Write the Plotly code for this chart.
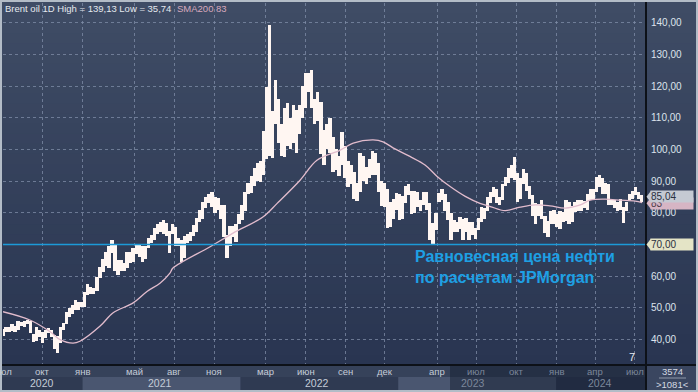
import plotly.graph_objects as go
import pandas as pd

# ---------------- data (weekly high/low ranges) ----------------
week_start_2020 = "2020-06-29"
low_2020 = [41.0, 42.3, 42.3, 42.8, 42.4, 43.2, 44.2, 44.0, 44.9, 42.0, 39.4, 39.5, 40.8, 39.0,
            40.5, 42.0, 40.8, 37.2, 35.74, 39.0, 43.0, 45.0, 47.0, 48.2, 49.5, 49.5, 50.2]
high_2020 = [43.5, 43.9, 44.0, 44.8, 44.3, 45.8, 45.6, 45.9, 46.2, 45.9, 41.9, 43.9, 43.0, 42.4,
             43.2, 43.7, 43.0, 41.6, 41.3, 44.0, 45.2, 48.7, 49.9, 50.8, 52.5, 51.9, 52.0]

week_start_2021 = "2021-01-04"
low_2021 = [50.4, 54.0, 54.5, 54.5, 55.4, 59.4, 61.3, 63.2, 62.7, 67.2, 61.7, 60.3, 61.6,
            61.5, 62.5, 64.2, 64.4, 67.1, 66.2, 64.6, 65.5, 68.9, 70.6, 71.5, 73.4, 74.0,
            73.4, 72.6, 67.4, 73.4, 69.6, 69.5, 64.6, 65.7, 70.6, 71.0, 72.6, 74.0, 77.0,
            78.0, 81.5, 83.0, 82.0, 80.0, 81.0, 78.1, 72.3, 65.7, 69.6, 72.5, 70.9, 76.5]
high_2021 = [55.0, 57.4, 56.6, 56.4, 59.8, 62.8, 65.5, 67.7, 69.7, 71.4, 69.9, 65.0, 65.0,
             64.2, 67.6, 67.5, 69.0, 69.8, 70.0, 69.5, 69.6, 72.0, 73.0, 75.3, 76.5, 77.0,
             77.8, 76.9, 74.4, 76.4, 75.6, 72.0, 71.5, 72.7, 73.4, 73.9, 76.2, 78.5, 80.8,
             83.5, 85.1, 86.1, 86.7, 85.0, 84.6, 82.5, 82.4, 73.0, 76.0, 76.0, 76.4, 79.5]

week_start_2022 = "2022-01-03"
low_2022 = [77.8, 80.5, 86.0, 86.4, 88.6, 90.0, 89.6, 92.0, 97.0, 98.0, 97.4, 108.0, 102.0,
            98.0, 97.6, 101.0, 100.0, 102.0, 99.0, 105.0, 110.0, 113.0, 118.0, 113.0, 108.0, 109.0,
            98.5, 95.0, 100.0, 99.0, 93.0, 93.5, 91.5, 95.0, 91.0, 88.0, 89.0, 84.5, 83.6,
            86.5, 90.0, 89.0, 91.0, 92.0, 92.0, 86.5, 82.3, 82.0, 75.1, 75.5, 78.0, 81.0]
high_2022 = [82.5, 86.5, 89.5, 91.7, 94.0, 95.6, 96.2, 105.8, 119.8, 139.13, 112.0, 122.0, 116.0,
             108.0, 113.0, 114.8, 110.0, 114.0, 112.5, 114.0, 120.0, 124.0, 124.0, 125.2, 116.0, 118.0,
             115.0, 106.0, 108.0, 110.0, 104.0, 100.0, 98.0, 105.6, 101.0, 96.4, 95.0, 93.0, 89.5,
             98.8, 98.0, 94.5, 97.0, 99.6, 99.0, 95.6, 90.0, 89.4, 87.5, 83.5, 84.5, 86.2]

week_start_2023 = "2023-01-02"
low_2023 = [77.6, 78.0, 83.0, 85.5, 79.6, 80.0, 82.0, 80.5, 82.5, 81.0, 71.4, 70.1, 74.5,
            83.5, 84.0, 80.7, 77.7, 71.4, 74.0, 74.0, 75.0, 71.5, 74.0, 71.5, 73.0, 71.6,
            74.5, 77.0, 78.0, 80.5, 83.0, 85.0, 83.2, 82.5, 84.0, 88.5, 89.5, 91.0, 90.5,
            83.5, 84.5, 89.0, 87.0, 84.5, 79.0, 76.6, 79.0, 78.0, 73.8, 72.5, 76.5, 76.5]
high_2023 = [86.0, 85.2, 88.5, 89.1, 87.0, 86.9, 86.7, 84.0, 86.7, 86.7, 83.0, 76.8, 80.0,
             86.4, 87.5, 86.0, 83.5, 80.0, 77.9, 77.0, 78.7, 78.0, 78.5, 77.2, 77.0, 75.3,
             78.5, 81.7, 81.5, 85.0, 86.7, 88.1, 87.5, 85.0, 89.0, 91.2, 94.3, 95.0, 97.7,
             92.5, 91.0, 93.8, 92.5, 88.5, 85.5, 83.0, 82.8, 84.0, 79.0, 77.5, 80.6, 81.0]

week_start_2024 = "2024-01-01"
low_2024 = [75.5, 75.0, 77.0, 77.5, 76.5, 77.0, 80.3, 80.5, 80.5, 81.5, 81.0, 84.0, 84.5,
            86.5, 88.0, 86.0, 86.0, 82.4, 82.5, 81.5, 80.6, 81.0, 76.8, 80.5, 84.0, 84.5,
            85.5, 84.5, 83.5]
high_2024 = [79.5, 80.7, 80.2, 84.0, 83.5, 82.3, 83.5, 84.0, 84.0, 83.8, 86.0, 87.6, 87.6,
             91.2, 91.9, 91.0, 89.5, 89.0, 84.5, 84.0, 83.5, 84.5, 82.0, 83.5, 86.0, 87.0,
             88.0, 86.5, 85.5]

last_price = 85.04
high_all = 139.13
low_all = 35.74

# SMA200
sma_dates = ["2020-07-01", "2020-09-01", "2020-10-18", "2020-11-10", "2020-12-10", "2020-12-26",
             "2021-02-10", "2021-03-12", "2021-04-28", "2021-05-30", "2021-06-29", "2021-07-22",
             "2021-07-29", "2021-10-23", "2021-12-15", "2022-02-22", "2022-03-27", "2022-05-19",
             "2022-06-27", "2022-08-20", "2022-09-19", "2022-11-04", "2022-11-27", "2022-12-20",
             "2023-01-28", "2023-03-04", "2023-04-01", "2023-05-01", "2023-06-05", "2023-07-09",
             "2023-08-02", "2023-09-05", "2023-10-10", "2023-11-14", "2023-12-18", "2024-01-22",
             "2024-02-26", "2024-03-20", "2024-04-24", "2024-05-29", "2024-07-02", "2024-07-18"]
sma_values = [48.8, 46.2, 42.5, 40.0, 38.9, 39.5,
              44.2, 48.4, 51.6, 55.2, 57.8, 61.0,
              62.6, 69.3, 73.6, 78.7, 83.0, 90.3,
              96.6, 99.8, 102.0, 103.0, 102.4, 100.5,
              97.8, 95.1, 91.5, 88.3, 85.2, 83.0,
              82.0, 80.7, 81.8, 82.5, 82.2, 81.5,
              82.5, 84.0, 84.3, 84.0, 83.7, 83.2]
sma_last = 83

jpm_level = 70.0
jpm_text = "Равновесная цена нефти<br>по расчетам JPMorgan"

y_ticks = [40, 50, 60, 70, 80, 90, 100, 110, 120, 130, 140]
tick_dates = ["2020-07-01", "2020-10-01", "2021-01-01", "2021-05-01", "2021-08-01", "2021-11-01",
              "2022-03-01", "2022-06-01", "2022-09-01", "2022-12-01", "2023-04-01", "2023-07-01",
              "2023-10-01", "2024-01-01", "2024-04-01", "2024-07-01"]
tick_labels = ["июл", "окт", "янв", "май", "авг", "ноя", "мар", "июн", "сен", "дек", "апр", "июл",
               "окт", "янв", "апр", "июл"]
year_labels = ["2020", "2021", "2022", "2023", "2024"]
year_label_pos = ["2020-09-29", "2021-06-29", "2022-06-27", "2023-06-23", "2024-04-12"]
band_years = [("2021-01-01", "2022-01-01"), ("2023-01-01", "2024-01-01")]
bars_count = "3574"
bars_visible = ">1081<"

# ---------------- build ----------------
frames = []
for start, lo, hi in [(week_start_2020, low_2020, high_2020), (week_start_2021, low_2021, high_2021),
                      (week_start_2022, low_2022, high_2022), (week_start_2023, low_2023, high_2023),
                      (week_start_2024, low_2024, high_2024)]:
    d = pd.date_range(start, periods=len(lo), freq="7D") + pd.Timedelta(days=2)
    frames.append(pd.DataFrame({"date": d, "low": lo, "high": hi}))
df = pd.concat(frames, ignore_index=True)

W, H = 698, 392
ML, MR, MT, MB = 3, 52, 3, 27
PW, PH = W - ML - MR, H - MT - MB


def px_x(p):  # pixel -> paper x
    return (p - ML) / PW


def px_y(p):  # pixel -> paper y
    return 1 - (p - MT) / PH


X0, X1 = "2020-07-01", "2024-07-27"
Y0, Y1 = 32.0, 146.2

FONT = "Liberation Sans, Arial, sans-serif"
SMALL = 9.5

fig = go.Figure()
fig.add_trace(go.Bar(x=df["date"], base=df["low"], y=df["high"] - df["low"],
                     width=7.8 * 86400000, marker=dict(color="#fff6f2", line=dict(width=0)),
                     hoverinfo="skip"))
fig.add_trace(go.Scatter(x=pd.to_datetime(sma_dates), y=sma_values, mode="lines",
                         line=dict(color="#e2bccd", width=1.3, shape="spline"), hoverinfo="skip"))

shapes = []
# background gradient
top = (63, 76, 101)
bot = (41, 53, 81)
N = 36
for i in range(N):
    t = i / (N - 1)
    c = tuple(int(round(top[k] + (bot[k] - top[k]) * t)) for k in range(3))
    shapes.append(dict(type="rect", xref="paper", yref="paper", layer="below",
                       x0=px_x(0), x1=px_x(W), y0=1 - (i + 1) / N - 0.002, y1=1 - i / N + (0.01 if i == 0 else 0),
                       fillcolor="rgb(%d,%d,%d)" % c, line=dict(width=0)))
# JPM level line
shapes.append(dict(type="line", xref="paper", yref="y", x0=0, x1=1, y0=jpm_level, y1=jpm_level,
                   line=dict(color="#1c9ad8", width=1.5), layer="above"))
# bottom axis area
shapes.append(dict(type="rect", xref="paper", yref="paper", x0=px_x(0), x1=1, y0=px_y(377), y1=0,
                   fillcolor="#36425a", line=dict(width=0), layer="above"))
shapes.append(dict(type="rect", xref="paper", yref="paper", x0=px_x(0), x1=1, y0=px_y(392), y1=px_y(377),
                   fillcolor="#2f3a52", line=dict(width=0), layer="above"))
for a, b in band_years:
    shapes.append(dict(type="rect", xref="x", yref="paper", x0=a, x1=b, y0=px_y(390), y1=px_y(377),
                       fillcolor="#4a5670", line=dict(width=0), layer="above"))
shapes.append(dict(type="rect", xref="paper", yref="paper", x0=px_x(450), x1=1, y0=px_y(392), y1=0,
                   fillcolor="rgba(18,26,44,0.45)", line=dict(width=0), layer="above"))
# bottom-right cell
shapes.append(dict(type="rect", xref="paper", yref="paper", x0=1, x1=px_x(W), y0=px_y(392), y1=0,
                   fillcolor="#3a4660", line=dict(width=0), layer="above"))
shapes.append(dict(type="line", xref="paper", yref="paper", x0=px_x(659), x1=px_x(686), y0=px_y(378), y1=px_y(378),
                   line=dict(color="#8d97a8", width=1), layer="above"))
# separators
shapes.append(dict(type="line", xref="paper", yref="paper", x0=1, x1=1, y0=px_y(392), y1=px_y(0),
                   line=dict(color="#0d1118", width=2), layer="above"))
shapes.append(dict(type="line", xref="paper", yref="paper", x0=px_x(0), x1=px_x(W), y0=0, y1=0,
                   line=dict(color="#0d1118", width=2), layer="above"))
# outer border
shapes.append(dict(type="rect", xref="paper", yref="paper", x0=px_x(0), x1=px_x(W), y0=px_y(H), y1=px_y(0),
                   line=dict(color="#b3bcc7", width=4), fillcolor="rgba(0,0,0,0)", layer="above"))


def price_tag(val, text, bg, fg):
    d = 6 / (PH / (Y1 - Y0))
    shapes.append(dict(type="path", xref="paper", yref="y", layer="above",
                       path="M %f,%f L %f,%f L %f,%f Z" % (px_x(646.5), val, px_x(651), val + d,
                                                             px_x(651), val - d),
                       fillcolor=bg, line=dict(width=0)))
    return dict(xref="paper", yref="y", x=px_x(650), y=val, xanchor="left", yanchor="middle",
                text=text, showarrow=False, bgcolor=bg, width=42, height=11, align="left",
                borderpad=0, font=dict(family=FONT, size=10, color=fg))


annotations = []
annotations.append(price_tag(sma_last, str(sma_last), "#d6b5c4", "#4a3a48"))
annotations.append(price_tag(last_price, f"{last_price:.2f}".replace(".", ","), "#c5cad3", "#2a3040"))
annotations.append(price_tag(jpm_level, f"{jpm_level:.2f}".replace(".", ","), "#e4e4c6", "#2a3040"))

annotations.append(dict(xref="paper", yref="paper", x=px_x(3), y=px_y(8), xanchor="left", yanchor="middle",
                        text=f"Brent oil 1D High = {high_all:.2f} Low = {low_all:.2f}".replace(".", ","),
                        showarrow=False, font=dict(family=FONT, size=SMALL, color="#e4e8ee")))
annotations.append(dict(xref="paper", yref="paper", x=px_x(175), y=px_y(8), xanchor="left", yanchor="middle",
                        text=f"SMA200 {sma_last}", showarrow=False,
                        font=dict(family=FONT, size=SMALL, color="#d8a9bd")))
annotations.append(dict(xref="paper", yref="paper", x=px_x(413), y=px_y(267), xanchor="left", yanchor="middle",
                        text="<b>" + jpm_text.replace("<br>", "</b><br><b>") + "</b>", showarrow=False, align="left",
                        font=dict(family=FONT, size=16, color="#1ea0e4")))
annotations.append(dict(xref="paper", yref="paper", x=px_x(632), y=px_y(357), xanchor="center", yanchor="middle",
                        text="7", showarrow=False, font=dict(family=FONT, size=11, color="#e8ecf2")))

cut = pd.Timestamp("2023-05-01")
for d, t in zip(tick_dates, tick_labels):
    col = "#c5ccd8" if pd.Timestamp(d) < cut else "#7c879b"
    annotations.append(dict(xref="x", yref="paper", x=d, y=px_y(371), xanchor="center", yanchor="middle",
                            text=t, showarrow=False, font=dict(family=FONT, size=SMALL, color=col)))
for d, t in zip(year_label_pos, year_labels):
    col = "#c5ccd8" if pd.Timestamp(d) < cut else "#7c879b"
    annotations.append(dict(xref="x", yref="paper", x=d, y=px_y(383), xanchor="center", yanchor="middle",
                            text=t, showarrow=False, font=dict(family=FONT, size=10.5, color=col)))
annotations.append(dict(xref="paper", yref="paper", x=px_x(672), y=px_y(371), xanchor="center", yanchor="middle",
                        text=bars_count, showarrow=False, font=dict(family=FONT, size=SMALL, color="#d4d9e2")))
annotations.append(dict(xref="paper", yref="paper", x=px_x(672), y=px_y(384), xanchor="center", yanchor="middle",
                        text=bars_visible.replace("<", "&lt;").replace(">", "&gt;"), showarrow=False,
                        font=dict(family=FONT, size=SMALL, color="#d4d9e2")))

fig.update_layout(
    width=W, height=H, margin=dict(l=ML, r=MR, t=MT, b=MB, pad=0),
    paper_bgcolor="#35425b", plot_bgcolor="rgba(0,0,0,0)",
    showlegend=False, bargap=0,
    shapes=shapes, annotations=annotations,
    xaxis=dict(type="date", range=[X0, X1], tickvals=tick_dates, showticklabels=False, ticks="",
               showgrid=True, gridcolor="rgba(128,142,168,0.75)", griddash="dot", gridwidth=1,
               zeroline=False, showline=False, fixedrange=True),
    yaxis=dict(range=[Y0, Y1], side="right", tickvals=y_ticks,
               ticktext=[f"{v},00" for v in y_ticks], ticks="", ticklabelstandoff=4,
               tickfont=dict(family=FONT, size=10, color="#dde3ec"),
               showgrid=True, gridcolor="rgba(128,142,168,0.75)", griddash="dot", gridwidth=1,
               zeroline=False, showline=False, fixedrange=True),
)

fig.write_html("out.html", config={"displayModeBar": False},
               post_script="document.body.style.margin='0px';document.body.style.padding='0px';")
